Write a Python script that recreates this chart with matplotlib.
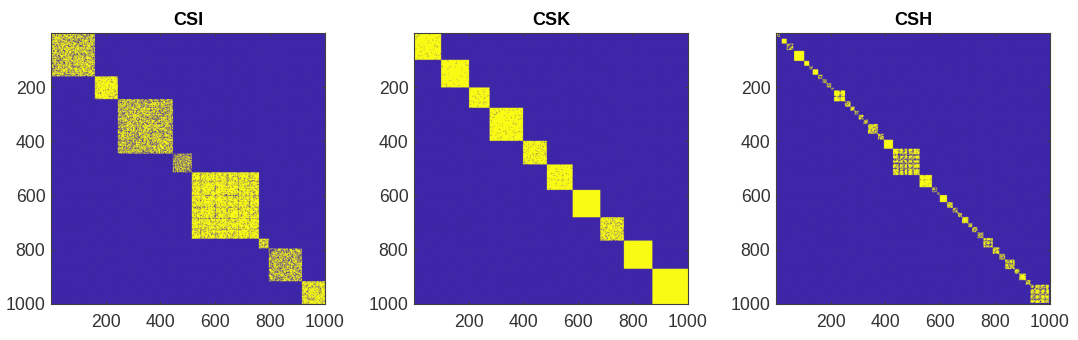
import numpy as np
import matplotlib
matplotlib.use("Agg")
import matplotlib.pyplot as plt
from matplotlib.colors import ListedColormap

titles = ["CSI", "CSK", "CSH"]
csi_edges = [0, 160, 244, 445, 514, 759, 795, 916, 1000]
csi_fill = [0.68, 0.88, 0.64, 0.52, 0.88, 0.70, 0.62, 0.80]
csk_edges = [0, 99, 201, 276, 398, 485, 579, 680, 766, 870, 1000]
csk_fill = [0.96, 0.97, 0.96, 0.96, 0.93, 0.97, 0.995, 0.82, 0.995, 0.995]
csh_edges = [0, 14, 21, 39, 63, 66, 103, 121, 134, 154, 170, 185, 202, 212, 252,
             272, 287, 302, 319, 336, 372, 394, 427, 524, 569, 589, 598, 624, 645,
             662, 679, 702, 716, 735, 757, 791, 815, 836, 871, 888, 912, 929, 996, 1000]
csh_fill = [0.45, 0.0, 0.99, 0.42, 0.0, 0.995, 0.97, 0.40, 0.995, 0.55, 0.50, 0.45, 0.35,
            0.97, 0.68, 0.72, 0.50, 0.52, 0.48, 0.70, 0.52, 0.995, 0.90, 0.985, 0.45,
            0.45, 0.995, 0.58, 0.62, 0.50, 0.80, 0.70, 0.50, 0.55, 0.80, 0.78, 0.60,
            0.82, 0.55, 0.86, 0.50, 0.88, 0.0]
# Rows/columns in a block that visibly read sparser: (start, end, fill).
csi_bands = [(545, 548, 0.6), (598, 601, 0.55), (641, 644, 0.55), (683, 686, 0.6), (722, 725, 0.55)]
csk_bands = []
csh_bands = [(447, 453, 0.3), (462, 470, 0.35), (478, 485, 0.3), (497, 503, 0.4),
             (232, 236, 0.5), (765, 770, 0.4), (780, 784, 0.4), (848, 853, 0.4),
             (860, 865, 0.4), (940, 948, 0.4), (962, 968, 0.4), (980, 985, 0.4)]
panel_edges = [csi_edges, csk_edges, csh_edges]
panel_fill = [csi_fill, csk_fill, csh_fill]
panel_bands = [csi_bands, csk_bands, csh_bands]
tick_values = [200, 400, 600, 800, 1000]

# The reference's individual speckles cannot be read one by one. This fixed,
# hand-typed dither (ranks 0-35) only stands in for their texture.
tile_a = ["k3w9q0t6z1m", "5yd2o8h4vbs", "r7j1xca3p6f", "0ug8n5zk2ti", "w4b6qe1y9l3",
          "9m2s7v0dh5o", "c6x3f1rj8a4", "p0i5ug7n2wz", "3tk9b4yq6e1", "ho1l8z5s3c7", "7a4v2jw0m9g"]
tile_b = ["2p7e0zi4sb9kw", "m5x1u8c3q6g0t", "a9h3ny6l1v4rd", "6o0w2j9f7k3z1", "s4b8t5e1p0x7u",
          "1i6c3r7m4y9ha", "q8g0z5a2n6d3l", "4k7v1o9w3j5b0", "y2t6s0f8e1c7p", "7n3h9u4x2i0m5",
          "0d5q1l6g8z3ar", "j9a4k7b0v5t2o", "3w8m2y6r1s4f9"]
rank_a = np.array([[int(ch, 36) for ch in row] for row in tile_a])
rank_b = np.array([[int(ch, 36) for ch in row] for row in tile_b])

N = 1000
CELL = 2
idx = np.arange(N) // CELL
rank = (rank_a[np.ix_(idx % 11, idx % 11)] + rank_b[np.ix_(idx % 13, idx % 13)]) % 36
rank = (rank + 0.5) / 36.0


def build(edges, fill, bands):
    density = np.zeros((N, N))
    for lo, hi, f in zip(edges[:-1], edges[1:], fill):
        density[lo:hi, lo:hi] = f
        for s, e, bf in bands:
            if lo <= s and e <= hi and f > 0:
                density[s:e, lo:hi] = bf
                density[lo:hi, s:e] = bf
    upper = np.triu(rank < density)
    return (upper | upper.T).astype(float)


plt.rcParams["font.family"] = ["Liberation Sans", "DejaVu Sans"]
cmap = ListedColormap(["#3E26A8", "#F9FB14"])
W, H = 1078, 340
fig = plt.figure(figsize=(W / 100, H / 100), dpi=100)
lefts = [51, 414, 776]
for left, title, edges, fill, bands in zip(lefts, titles, panel_edges, panel_fill, panel_bands):
    ax = fig.add_axes([left / W, 1 - 304 / H, 274 / W, 271 / H])
    ax.imshow(build(edges, fill, bands), cmap=cmap, vmin=0, vmax=1, aspect="auto",
              extent=(0.5, 1000.5, 1000.5, 0.5), interpolation="hanning",
              interpolation_stage="rgba")
    ax.set_xticks(tick_values)
    ax.set_yticks(tick_values)
    ax.tick_params(direction="in", length=2.5, width=0.7, top=True, right=True,
                   labelsize=12.7, color="#404040", labelcolor="#333333")
    ax.tick_params(axis="x", pad=7)
    ax.tick_params(axis="y", pad=4)
    for spine in ax.spines.values():
        spine.set_linewidth(0.8)
        spine.set_color("#404040")
    ax.set_title(title, fontsize=13, fontweight="bold", color="black", pad=6)
fig.savefig("out.png", dpi=100)
